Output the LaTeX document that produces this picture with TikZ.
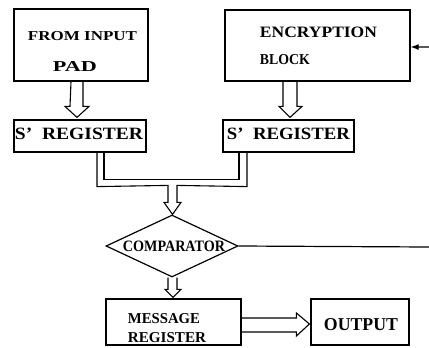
\documentclass[tikz,border=0pt]{standalone}
\usepackage{fontspec}
\setmainfont{Liberation Serif}
\usetikzlibrary{shapes.geometric,calc,arrows.meta}
% uppercase label squeezed to a given width and cap height (in bp)
\newcommand\capbox[3]{\resizebox{#1bp}{#2bp}{\bfseries #3}}
\newcommand\sq{\symbol{"27}}
\begin{document}
\begin{tikzpicture}[x=1bp,y=-1bp,line width=1.2bp,line join=miter,
  blk/.style={draw,rectangle,inner sep=0pt},
  lbl/.style={inner sep=0pt},
  hollow/.style={draw,line width=1.1bp}]
\useasboundingbox (0,0) rectangle (429,348);

% blocks
\node[blk,minimum width=134bp,minimum height=72bp] (inpad) at (81,45) {};
\node[blk,minimum width=185bp,minimum height=71bp] (enc) at (317.5,45.5) {};
\node[blk,minimum width=132bp,minimum height=32bp] (sregA) at (80,136) {};
\node[blk,minimum width=131bp,minimum height=32bp] (sregB) at (288.5,136) {};
\node[draw,diamond,inner sep=0pt,minimum width=132bp,minimum height=62bp] (comp) at (172,246) {};
\node[blk,minimum width=135bp,minimum height=46bp] (msg) at (173.5,322) {};
\node[blk,minimum width=98bp,minimum height=46bp] (out) at (360,322) {};

% labels
\node[lbl] (tA) at (82.5,36) {\capbox{109}{9}{FROM INPUT}};
\node[lbl] (tB) at (75,67) {\capbox{44}{10}{PAD}};
\node[lbl] (tC) at (318.5,32) {\capbox{117}{10.5}{ENCRYPTION}};
\node[lbl] (tD) at (285,60) {\capbox{50}{10}{BLOCK}};
\node[lbl] (tE) at (79,133.5) {\capbox{128}{11.5}{S\sq\ \ REGISTER}};
\node[lbl] (tF) at (288.5,134) {\capbox{123}{11.5}{S\sq\ \ REGISTER}};
\node[lbl] (tG) at (174,246.5) {\capbox{102}{10.5}{COMPARATOR}};
\node[lbl] (tH) at (164,318.5) {\capbox{72}{10}{MESSAGE}};
\node[lbl] (tI) at (167,338) {\capbox{78}{10}{REGISTER}};
\node[lbl] (tJ) at (361,325) {\capbox{74}{12}{OUTPUT}};

% hollow arrow: input pad -> left S' register
\draw[hollow] ($(inpad.south)+(-10,0)$) -- ($(sregA.north)+(-10,-13)$)
  -- ($(sregA.north)+(-15,-13)$) -- ($(sregA.north)+(-3,-2)$)
  -- ($(sregA.north)+(9,-13)$) -- ($(sregA.north)+(3,-13)$)
  -- ($(inpad.south)+(2,0)$);

% hollow arrow: encryption block -> right S' register
\draw[hollow] ($(enc.south)+(-34.5,0)$) -- ($(sregB.north)+(-5.5,-13)$)
  -- ($(sregB.north)+(-9.5,-13)$) -- ($(sregB.north)+(1.5,-2)$)
  -- ($(sregB.north)+(13.5,-13)$) -- ($(sregB.north)+(8.5,-13)$)
  -- ($(enc.south)+(-20.5,0)$);

% merging bus from both S' registers into the comparator
\draw[hollow] ($(sregA.south)+(17,0)$) -- ($(sregA.south)+(17,34)$)
  -- ($(comp.north)+(-4,-29)$) -- ($(comp.north)+(-4,-12)$)
  -- ($(comp.north)+(-8,-12)$) -- ($(comp.north)+(0.5,0)$)
  -- ($(comp.north)+(9,-12)$) -- ($(comp.north)+(5,-12)$)
  -- ($(comp.north)+(5,-29)$) -- ($(sregB.south)+(-41.5,34)$)
  -- ($(sregB.south)+(-41.5,0)$);
\draw[hollow] ($(sregA.south)+(24,0)$) -- ($(sregA.south)+(24,27)$)
  -- ($(sregB.south)+(-49.5,27)$) -- ($(sregB.south)+(-49.5,0)$);

% hollow arrow: comparator -> message register
\draw[hollow] ($(comp.south)+(-4,0)$) -- ($(msg.north)+(-5.5,-9)$)
  -- ($(msg.north)+(-8.5,-9)$) -- ($(msg.north)+(-0.5,-1)$)
  -- ($(msg.north)+(7.5,-9)$) -- ($(msg.north)+(3.5,-9)$)
  -- ($(comp.south)+(5,0)$);

% hollow arrow: message register -> output
\draw[hollow] ($(msg.east)+(0,-4)$) -- ($(out.west)+(-14,-4)$)
  -- ($(out.west)+(-14,-9)$) -- ($(out.west)+(-1,2)$)
  -- ($(out.west)+(-14,14)$) -- ($(out.west)+(-14,10)$)
  -- ($(msg.east)+(0,10)$);

% comparator result line and key input
\coordinate (cmpEnd) at (429,247);
\draw (comp.east) -- (cmpEnd);
\coordinate (keyIn) at (429,47);
\draw[-{Latex[length=8bp,width=6bp]}] (keyIn) -- ($(enc.east)+(0,1.5)$);
\end{tikzpicture}
\end{document}
